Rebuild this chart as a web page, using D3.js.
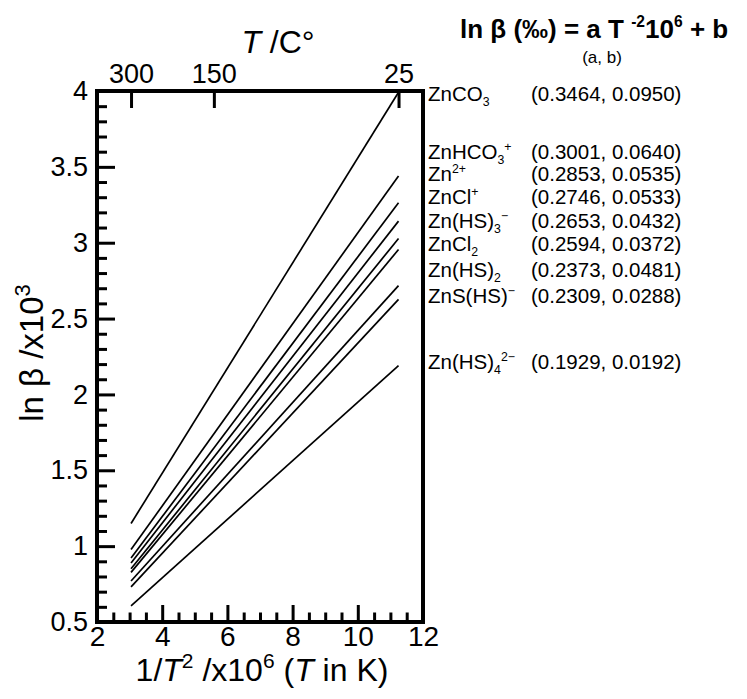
<!DOCTYPE html>
<html><head><meta charset="utf-8">
<script src="https://cdn.jsdelivr.net/npm/d3@7"></script>
<style>
body{margin:0;background:#fff}
svg{display:block}
text{font-family:"Liberation Sans",Arial,sans-serif;fill:#000}
</style>
</head><body><svg id="c" width="747" height="699"></svg>
<script>
// ---- data ----
const species = ["ZnCO_{3}", "ZnHCO_{3}^{+}", "Zn^{2+}", "ZnCl^{+}", "Zn(HS)_{3}^{\u2212}",
                 "ZnCl_{2}", "Zn(HS)_{2}", "ZnS(HS)^{\u2212}", "Zn(HS)_{4}^{2\u2212}"];
const slopeA = [0.3464, 0.3001, 0.2853, 0.2746, 0.2653, 0.2594, 0.2373, 0.2309, 0.1929];
const interceptB = [0.0950, 0.0640, 0.0535, 0.0533, 0.0432, 0.0372, 0.0481, 0.0288, 0.0192];
const lineTempsC = [300, 25];            // lines span 300 °C .. 25 °C
const topTicksC = [300, 150, 25];
const xMajorTicks = [2, 4, 6, 8, 10, 12];
const xTickLabels = ["2", "4", "6", "8", "10", "12"];
const yMajorTicks = [0.5, 1, 1.5, 2, 2.5, 3, 3.5, 4];
const yTickLabels = ["0.5", "1", "1.5", "2", "2.5", "3", "3.5", "4"];

// ---- layout ----
const X0 = 97, X1 = 423, Y0 = 622, Y1 = 91;
const labelBaselines = [101, 159, 181, 204, 228, 251, 277, 303, 369];
const nameX = 428, valX = 531;
const LBL = 20.5;

const svg = d3.select("#c");
const x = d3.scaleLinear().domain([2, 12]).range([X0, X1]);
const y = d3.scaleLinear().domain([0.5, 4]).range([Y0, Y1]);
const invT2 = c => 1e6 / Math.pow(c + 273.15, 2);

const xMinor = d3.range(2, 12.001, 0.5).filter(v => !xMajorTicks.some(m => Math.abs(m - v) < 1e-9));
const yMinor = d3.range(0.5, 4.0001, 0.1).filter(v => !yMajorTicks.some(m => Math.abs(m - v) < 1e-6));

function styleAxis(g) {
  g.select(".domain").remove();
  g.selectAll(".tick line").attr("stroke", "#000").attr("stroke-width", 3);
  g.selectAll(".tick text").attr("font-size", 27).attr("fill", "#000")
    .attr("font-family", "'Liberation Sans',Arial,sans-serif");
}

// left axis
svg.append("g").attr("transform", `translate(${X0},0)`)
  .call(d3.axisLeft(y).tickValues(yMinor).tickSize(-10).tickFormat(""))
  .call(styleAxis);
svg.append("g").attr("transform", `translate(${X0},0)`)
  .call(d3.axisLeft(y).tickValues(yMajorTicks).tickSize(-18).tickPadding(9)
        .tickFormat((d, i) => yTickLabels[i]))
  .call(styleAxis);

// bottom axis
svg.append("g").attr("transform", `translate(0,${Y0})`)
  .call(d3.axisBottom(x).tickValues(xMinor).tickSize(-9.5).tickFormat(""))
  .call(styleAxis);
svg.append("g").attr("transform", `translate(0,${Y0})`)
  .call(d3.axisBottom(x).tickValues(xMajorTicks).tickSize(-17).tickPadding(4)
        .tickFormat((d, i) => xTickLabels[i]))
  .call(styleAxis)
  .call(g => g.selectAll(".tick text").attr("font-size", 28));

// top axis (temperature in °C)
svg.append("g").attr("transform", `translate(0,${Y1})`)
  .call(d3.axisTop(x).tickValues(topTicksC.map(invT2)).tickSize(-17).tickPadding(8)
        .tickFormat((d, i) => String(topTicksC[i])))
  .call(styleAxis);

// frame
svg.append("rect").attr("x", X0).attr("y", Y1).attr("width", X1 - X0).attr("height", Y0 - Y1)
  .attr("fill", "none").attr("stroke", "#000").attr("stroke-width", 4);

// lines
const lineGen = d3.line().x(d => x(d[0])).y(d => y(d[1]));
species.forEach((s, i) => {
  const pts = lineTempsC.map(c => { const xv = invT2(c); return [xv, slopeA[i] * xv + interceptB[i]]; });
  svg.append("path").attr("d", lineGen(pts)).attr("fill", "none")
    .attr("stroke", "#000").attr("stroke-width", 1.7);
});

// rich text helper: _{sub} ^{sup}
function rich(t, str, size, subK = 0.22, supK = 0.4) {
  const re = /_\{([^}]*)\}|\^\{([^}]*)\}|([^_^]+)/g;
  let m, shift = 0;
  const small = size * 0.6;
  while ((m = re.exec(str))) {
    if (m[1] !== undefined) {
      t.append("tspan").attr("font-size", small).attr("dy", size * subK - shift).text(m[1]);
      shift = size * subK;
    } else if (m[2] !== undefined) {
      t.append("tspan").attr("font-size", small).attr("dy", -size * supK - shift).text(m[2]);
      shift = -size * supK;
    } else {
      t.append("tspan").attr("font-size", size).attr("dy", -shift).text(m[3]);
      shift = 0;
    }
  }
  return t;
}

// labels
const fmt = d3.format(".4f");
species.forEach((s, i) => {
  rich(svg.append("text").attr("x", nameX).attr("y", labelBaselines[i]).attr("font-size", LBL), s, LBL);
  svg.append("text").attr("x", valX).attr("y", labelBaselines[i]).attr("font-size", LBL)
    .text(`(${fmt(slopeA[i])}, ${fmt(interceptB[i])})`);
});

svg.append("text").attr("x", 602).attr("y", 63).attr("font-size", 17).attr("text-anchor", "middle").text("(a, b)");

// equation title
const eq = svg.append("text").attr("x", 460).attr("y", 38).attr("font-size", 26).attr("font-weight", "bold");
rich(eq, "ln \u03b2 (\u2030) = a T ^{-2}10^{6} + b", 26, 0.28, 0.42);

// top axis title
const tt = svg.append("text").attr("x", 278).attr("y", 53).attr("font-size", 32).attr("text-anchor", "middle");
tt.append("tspan").attr("font-style", "italic").text("T");
tt.append("tspan").text(" /C\u00b0");

// bottom title
const bt = svg.append("text").attr("x", 262).attr("y", 681).attr("font-size", 32).attr("text-anchor", "middle");
bt.append("tspan").text("1/");
bt.append("tspan").attr("font-style", "italic").text("T");
bt.append("tspan").attr("font-size", 21).attr("dy", -13).text("2");
bt.append("tspan").attr("dy", 13).text(" /x10");
bt.append("tspan").attr("font-size", 21).attr("dy", -13).text("6");
bt.append("tspan").attr("dy", 13).text(" (");
bt.append("tspan").attr("font-style", "italic").text("T");
bt.append("tspan").text(" in K)");

// left title
const lt = svg.append("text").attr("transform", "translate(43,353) rotate(-90)")
  .attr("font-size", 33).attr("text-anchor", "middle");
lt.append("tspan").text("ln \u03b2 /x10");
lt.append("tspan").attr("font-size", 22).attr("dy", -13).text("3");
</script>
</body></html>
